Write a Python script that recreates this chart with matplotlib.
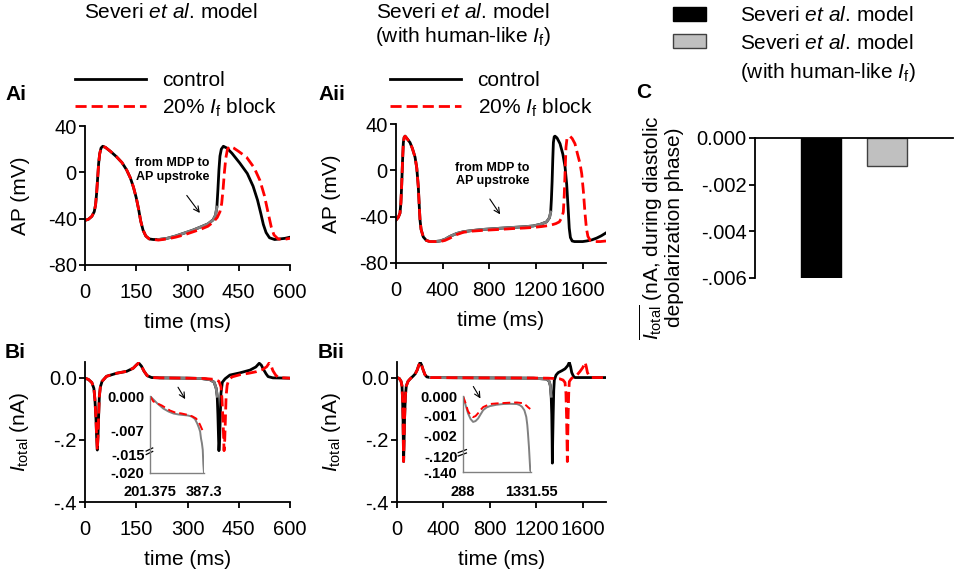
import numpy as np
import matplotlib.pyplot as plt
from matplotlib.patches import Patch

plt.rcParams['font.family'] = ['Liberation Sans', 'DejaVu Sans']
plt.rcParams['mathtext.fontset'] = 'custom'
plt.rcParams['mathtext.rm'] = 'Liberation Sans'
plt.rcParams['mathtext.it'] = 'Liberation Sans:italic'
plt.rcParams['mathtext.bf'] = 'Liberation Sans:bold'
plt.rcParams['axes.unicode_minus'] = False

# ---------------- data ----------------
# Ai: Severi model AP (ms, mV)
t_ai_ctrl = [0, 10, 20, 27, 31, 34, 37, 40, 43, 47, 52, 60, 75, 92, 108, 122, 133, 142, 150, 157, 163, 170,
             178, 188, 200, 215, 240, 265, 290, 315, 340, 360, 375, 382, 386, 389, 392, 395, 399, 405, 415,
             430, 453, 475, 492, 505, 515, 522, 530, 540, 555, 570, 585, 600]
v_ai_ctrl = [-41.5, -40.5, -38, -34, -28, -18, -5, 8, 16, 21, 22.5, 21.5, 18, 13.5, 8.5, 2, -5, -13, -22, -32, -42, -50,
             -55, -57.5, -58, -58, -57, -55, -52.5, -50, -47, -44.5, -41, -37, -30, -15, 2, 14, 20, 22.5, 21,
             16.5, 8, -1, -12, -24, -36, -45, -52, -56.5, -58, -57.5, -57, -56]
t_ai_blk = [0, 10, 20, 27, 31, 34, 37, 40, 43, 47, 52, 60, 75, 92, 108, 122, 133, 142, 150, 157, 163, 170,
            178, 188, 200, 215, 240, 265, 290, 315, 340, 360, 375, 387, 395, 400, 404, 408, 412, 417, 424,
            435, 450, 473, 495, 512, 525, 536, 545, 553, 565, 580, 600]
v_ai_blk = [-41.5, -40.5, -38, -34, -28, -18, -5, 8, 16, 21, 22.5, 21.5, 18, 13.5, 8.5, 2, -5, -13, -22, -32, -42, -50,
            -55, -57.5, -58, -58.5, -57.5, -56, -54, -51.5, -49, -46.5, -43, -39, -34, -27, -15, 0, 12, 20, 22.5,
            21, 18, 13, 4, -7, -20, -35, -47, -54, -57.5, -58, -57]

# Aii: Severi model with human-like If
t_aii_ctrl = [0, 20, 34, 42, 49, 56, 63, 70, 78, 90, 105, 120, 140, 163, 178, 191, 200, 206, 215, 234, 260, 290,
              330, 377, 420, 463, 520, 577, 650, 749, 891, 1000, 1100, 1177, 1240, 1291, 1315, 1326, 1332, 1338,
              1344, 1349, 1356, 1363, 1380, 1406, 1430, 1449, 1463, 1475, 1485, 1495, 1510, 1530, 1549, 1600,
              1634, 1680, 1720, 1760, 1800]
v_aii_ctrl = [-43, -40.5, -37, -28, -12, 8, 24, 28.5, 29.5, 28, 26, 24, 19, 11.5, 2, -14, -32, -43, -51, -57.5,
              -60.5, -61.5, -61.5, -61, -59.5, -57, -54.5, -53, -52, -51, -50, -49.3, -48.7, -48, -46.5, -44.5,
              -41, -36, -25, -10, 10, 24, 29, 29.5, 28, 23, 14, 3, -12, -32, -50, -58, -61, -61.5, -61.5,
              -61.5, -61, -60, -58.5, -56.5, -54]
t_aii_blk = [0, 20, 34, 42, 49, 56, 63, 70, 78, 90, 105, 120, 140, 163, 178, 191, 200, 206, 215, 234, 260, 290,
             330, 377, 420, 463, 520, 577, 650, 749, 891, 1000, 1100, 1177, 1250, 1320, 1370, 1400, 1420, 1434,
             1442, 1449, 1457, 1465, 1477, 1491, 1510, 1534, 1556, 1577, 1592, 1606, 1620, 1632, 1645, 1665,
             1700, 1750, 1800]
v_aii_blk = [-43, -40.5, -37, -28, -12, 8, 24, 28.5, 29.5, 28, 26, 24, 19, 11.5, 2, -14, -32, -43, -51, -57.5,
             -60.5, -61.5, -61.5, -61.5, -60.5, -58.5, -55.5, -53.5, -52.5, -51.8, -51, -50.3, -49.8, -49.3,
             -48.5, -47.5, -46, -44.5, -41, -36, -22, -2, 20, 27, 29, 29.5, 27.5, 23, 14, 6, -3, -18, -37, -50,
             -57, -60.5, -61.5, -61.5, -61]

# Bi: Itotal (nA)
t_bi_ctrl = [0, 10, 20, 26, 29, 32, 34, 36, 38, 40, 42, 45, 50, 63, 93, 122, 141, 150, 157, 165, 173, 182, 195,
             220, 300, 340, 366, 378, 384, 387, 389, 391, 392, 394, 396, 398, 402, 410, 424, 453, 483, 500,
             510, 516, 522, 530, 536, 550, 600]
i_bi_ctrl = [-0.002, -0.006, -0.016, -0.035, -0.07, -0.13, -0.19, -0.233, -0.19, -0.12, -0.06, -0.03, -0.012,
             0.004, 0.014, 0.02, 0.03, 0.04, 0.047, 0.037, 0.02, 0.006, 0.0, -0.001, -0.002, -0.003, -0.007,
             -0.015, -0.035, -0.06, -0.12, -0.2, -0.235, -0.2, -0.12, -0.05, -0.015, -0.004, 0.008, 0.015,
             0.024, 0.034, 0.046, 0.04, 0.027, 0.012, 0.003, -0.001, -0.002]
t_bi_blk = [0, 10, 20, 26, 29, 32, 34, 36, 38, 40, 42, 45, 50, 63, 93, 122, 141, 150, 157, 165, 173, 182, 195,
            220, 300, 350, 380, 392, 398, 401, 404, 406, 407, 409, 411, 413, 416, 420, 430, 453, 480, 502, 520,
            532, 539, 545, 550, 558, 566, 600]
i_bi_blk = [-0.002, -0.006, -0.016, -0.035, -0.07, -0.13, -0.19, -0.233, -0.19, -0.12, -0.06, -0.03, -0.012,
            0.004, 0.014, 0.02, 0.03, 0.04, 0.047, 0.037, 0.02, 0.006, 0.0, -0.001, -0.002, -0.003, -0.006,
            -0.012, -0.03, -0.07, -0.14, -0.2, -0.235, -0.2, -0.13, -0.06, -0.025, -0.01, 0.002, 0.009, 0.014,
            0.019, 0.026, 0.035, 0.047, 0.037, 0.022, 0.008, 0.0, -0.002]

# Bii: Itotal (nA), human-like If
t_bii_ctrl = [0, 20, 35, 43, 48, 52, 55, 57, 60, 65, 72, 80, 95, 114, 140, 157, 175, 186, 200, 212, 223, 240,
              257, 288, 700, 1175, 1290, 1310, 1320, 1328, 1333, 1336, 1338, 1341, 1345, 1350, 1355, 1370, 1389,
              1420, 1447, 1470, 1484, 1495, 1505, 1520, 1533, 1800]
i_bii_ctrl = [0.0, -0.003, -0.012, -0.027, -0.07, -0.134, -0.22, -0.27, -0.22, -0.134, -0.06, -0.027, -0.012,
              -0.004, 0.005, 0.012, 0.025, 0.038, 0.049, 0.04, 0.027, 0.01, 0.002, 0.0, -0.001, -0.002, -0.005,
              -0.012, -0.025, -0.06, -0.12, -0.2, -0.275, -0.2, -0.12, -0.04, -0.008, 0.008, 0.016, 0.022,
              0.028, 0.038, 0.049, 0.035, 0.016, 0.004, 0.0, 0.0]
t_bii_blk = [0, 20, 35, 43, 48, 52, 55, 57, 60, 65, 72, 80, 95, 114, 140, 157, 175, 186, 200, 212, 223, 240,
             257, 288, 700, 1175, 1300, 1400, 1430, 1447, 1455, 1460, 1464, 1467, 1470, 1474, 1479, 1484, 1500,
             1519, 1550, 1577, 1600, 1620, 1630, 1640, 1655, 1675, 1800]
i_bii_blk = [0.0, -0.003, -0.012, -0.027, -0.07, -0.134, -0.22, -0.27, -0.22, -0.134, -0.06, -0.027, -0.012,
             -0.004, 0.005, 0.012, 0.025, 0.038, 0.049, 0.04, 0.027, 0.01, 0.002, 0.0, -0.001, -0.0015, -0.002,
             -0.004, -0.008, -0.016, -0.05, -0.12, -0.2, -0.27, -0.2, -0.12, -0.05, -0.013, -0.004, 0.002,
             0.008, 0.02, 0.032, 0.049, 0.035, 0.016, 0.005, 0.0, 0.0]

# insets (diastolic depolarization phase)
t_ins_i_ctrl = [201.375, 225, 247, 265, 282, 300, 316, 332, 345, 356, 364, 370, 374, 377, 380, 383, 385, 387.3]
i_ins_i_ctrl = [0.0, -0.0014, -0.0025, -0.0031, -0.0035, -0.0037, -0.0038, -0.0039, -0.0041, -0.0046, -0.0055,
                -0.0064, -0.0072, -0.0095, -0.011, -0.0133, -0.0175, -0.020]
t_ins_i_blk = [201.375, 213, 242, 270, 288, 310, 333, 348, 360, 368, 374, 380, 385]
i_ins_i_blk = [0.0, -0.0011, -0.0019, -0.0029, -0.0033, -0.0035, -0.0038, -0.0041, -0.0045, -0.0051, -0.0058,
               -0.0066, -0.0073]
t_ins_ii_ctrl = [288, 330, 365, 405, 443, 480, 520, 560, 598, 650, 701, 800, 907, 1010, 1115, 1160, 1192, 1230,
                 1259, 1275, 1285, 1300, 1320, 1331.55]
i_ins_ii_ctrl = [0.0, -0.0005, -0.00091, -0.0012, -0.00134, -0.0013, -0.00117, -0.00095, -0.00074, -0.0006,
                 -0.00053, -0.00046, -0.00042, -0.00041, -0.00042, -0.00048, -0.00056, -0.00075, -0.00109,
                 -0.0015, -0.0019, -0.0656, -0.1377, -0.140]
t_ins_ii_blk = [288, 330, 365, 405, 443, 480, 520, 560, 598, 650, 701, 800, 907, 1010, 1115, 1192, 1230, 1259,
                1290, 1320]
i_ins_ii_blk = [0.0, -0.0004, -0.0008, -0.001, -0.0011, -0.00105, -0.0009, -0.00072, -0.00058, -0.0005,
                -0.00042, -0.00039, -0.00037, -0.00035, -0.00034, -0.00037, -0.00043, -0.0005, -0.0006, -0.00068]

# diastolic window of each control trace (ms)
diast_i = (201.375, 387.3)
diast_ii = (288, 1331.55)

# C: mean Itotal during diastolic depolarization (nA)
c_models = ['Severi $\\mathit{et\\ al}$. model', 'Severi $\\mathit{et\\ al}$. model',
            '(with human-like $I_\\mathrm{f}$)']
c_values = [-0.00598, -0.0012]

ap_ticks = [-80, -40, 0, 40]
ap_ticklabels = ['-80', '-40', '0', '40']
i_ticks = [-0.4, -0.2, 0.0]
i_ticklabels = ['-.4', '-.2', '0.0']
c_ticks = [-0.006, -0.004, -0.002, 0.0]
c_ticklabels = ['-.006', '-.004', '-.002', '0.000']
ins_i_ticks = [-0.020, -0.015, -0.007, 0.0]
ins_i_ticklabels = ['-.020', '-.015', '-.007', '0.000']
ins_ii_ticks = [-0.140, -0.120, -0.002, -0.001, 0.0]
ins_ii_ticklabels = ['-.140', '-.120', '-.002', '-.001', '0.000']

# ---------------- figure ----------------
W, H = 957, 575
fig = plt.figure(figsize=(W / 100, H / 100), dpi=100)


def box(x0, y0, x1, y1):
    # pixel box (top-left origin) -> figure fraction rect
    return [x0 / W, 1 - y1 / H, (x1 - x0) / W, (y1 - y0) / H]


RED = '#ff0000'
GREY = '#808080'
LW = 2.0
DASH = (4, 1.8)
TICK = 14.5
FS = 15


def style(ax):
    for s in ['top', 'right']:
        ax.spines[s].set_visible(False)
    for s in ['left', 'bottom']:
        ax.spines[s].set_linewidth(1.3)
    ax.tick_params(direction='out', length=4, width=1.3, labelsize=TICK)
    ax.tick_params(axis='x', pad=9)
    ax.tick_params(axis='y', pad=2)


def main_panel(rect, tc, yc, tb, yb, win, xlim, xticks, yticks, ylabels, ylim, ylab):
    ax = fig.add_axes(rect)
    l1, = ax.plot(tc, yc, color='black', lw=LW, label='control')
    tc_a, yc_a = np.array(tc), np.array(yc)
    m = (tc_a >= win[0]) & (tc_a <= win[1])
    ax.plot(tc_a[m], yc_a[m], color=GREY, lw=LW)
    l2, = ax.plot(tb, yb, color=RED, lw=LW, dashes=DASH, label='20% $I_\\mathrm{f}$ block')
    ax.set_xlim(*xlim)
    ax.set_ylim(*ylim)
    ax.set_xticks(xticks)
    ax.set_yticks(yticks)
    ax.set_yticklabels(ylabels)
    ax.set_xlabel('time (ms)', fontsize=FS, labelpad=8)
    ax.set_ylabel(ylab, fontsize=FS, labelpad=13)
    style(ax)
    return ax, l1, l2


ax_ai, h1, h2 = main_panel(box(85, 126, 290, 265), t_ai_ctrl, v_ai_ctrl, t_ai_blk, v_ai_blk, diast_i,
                           (0, 600), [0, 150, 300, 450, 600], ap_ticks, ap_ticklabels, (-80, 40), 'AP (mV)')
ax_aii, _, _ = main_panel(box(396, 124, 606, 263), t_aii_ctrl, v_aii_ctrl, t_aii_blk, v_aii_blk, diast_ii,
                          (0, 1800), [0, 400, 800, 1200, 1600], ap_ticks, ap_ticklabels, (-80, 40), 'AP (mV)')
ax_bi, _, _ = main_panel(box(85, 362, 290, 502), t_bi_ctrl, i_bi_ctrl, t_bi_blk, i_bi_blk, diast_i,
                         (0, 600), [0, 150, 300, 450, 600], i_ticks, i_ticklabels, (-0.4, 0.05),
                         '$I_\\mathrm{total}$ (nA)')
ax_bii, _, _ = main_panel(box(397, 362, 606, 502), t_bii_ctrl, i_bii_ctrl, t_bii_blk, i_bii_blk, diast_ii,
                          (0, 1800), [0, 400, 800, 1200, 1600], i_ticks, i_ticklabels, (-0.4, 0.05),
                          '$I_\\mathrm{total}$ (nA)')

for ax, xa in [(ax_ai, 75), (ax_aii, 390)]:
    ax.legend([h1, h2], ['control', '20% $I_\\mathrm{f}$ block'], loc='upper left',
              bbox_to_anchor=(xa / W, 1 - 71 / H), bbox_transform=fig.transFigure, frameon=False,
              fontsize=FS, handlelength=3.4, handletextpad=0.8, labelspacing=0.3, borderpad=0,
              borderaxespad=0)

# annotations
for ax, txy, a0, a1 in [(ax_ai, (256, 2), (293, -18), (341, -37)),
                        (ax_aii, (827, -3.6), (791, -22.8), (906, -40))]:
    ax.text(*txy, 'from MDP to\nAP upstroke', ha='center', va='center', fontsize=9, fontweight='bold',
            linespacing=1.15)
    ax.annotate('', xy=a1, xytext=a0, arrowprops=dict(arrowstyle='->', lw=0.8, color='black'))
ax_bi.annotate('', xy=(297.5, -0.077), xytext=(268, -0.0235),
               arrowprops=dict(arrowstyle='->', lw=0.8, color='black'))
ax_bii.annotate('', xy=(731, -0.075), xytext=(645, -0.021),
                arrowprops=dict(arrowstyle='->', lw=0.8, color='black'))


# insets with broken y axis
def inset(rect, tc, yc, tb, yb, win, vals, pos, ticks, labels, brk):
    ax = fig.add_axes(rect)
    ax.patch.set_facecolor('none')
    fwd = lambda y: np.interp(y, vals, pos)
    inv = lambda p: np.interp(p, pos, vals)
    ax.set_yscale('function', functions=(fwd, inv))
    ax.plot(tc, yc, color=GREY, lw=1.4)
    ax.plot(tb, yb, color=RED, lw=1.4, dashes=(4, 2))
    ax.set_xlim(*win)
    ax.set_ylim(vals[0], vals[-1])
    ax.set_xticks(list(win))
    ax.set_xticklabels([f'{win[0]:g}', f'{win[1]:g}'], fontweight='bold')
    ax.set_yticks(ticks)
    ax.set_yticklabels(labels, fontweight='bold')
    ax.yaxis.set_minor_locator(plt.NullLocator())
    for s in ['top', 'right']:
        ax.spines[s].set_visible(False)
    for s in ['left', 'bottom']:
        ax.spines[s].set_color(GREY)
        ax.spines[s].set_linewidth(1.0)
    ax.tick_params(length=0, labelsize=10.5)
    ax.tick_params(axis='x', pad=9)
    ax.tick_params(axis='y', pad=4)
    for dy in (0.0, 0.045):
        ax.plot([-0.07, 0.05], [brk - 0.03 + dy, brk + 0.01 + dy], transform=ax.transAxes,
                color='black', lw=0.9, clip_on=False)
    return ax


inset(box(150, 396, 204, 473), t_ins_i_ctrl, i_ins_i_ctrl, t_ins_i_blk, i_ins_i_blk, diast_i,
      [-0.020, -0.015, -0.007, 0.0], [0, 18, 42, 77], ins_i_ticks, ins_i_ticklabels, 0.27)
inset(box(463, 396, 531, 472), t_ins_ii_ctrl, i_ins_ii_ctrl, t_ins_ii_blk, i_ins_ii_blk, diast_ii,
      [-0.140, -0.120, -0.002, -0.001, 0.0], [0, 15, 36.7, 56.7, 75.7], ins_ii_ticks, ins_ii_ticklabels, 0.24)

# panel C
ax_c = fig.add_axes(box(755, 138, 953, 278))
ax_c.bar([1, 2], c_values, width=0.6, color=['black', '#c0c0c0'], edgecolor=['black', '#404040'],
         linewidth=1.0)
ax_c.set_xlim(0, 3)
ax_c.set_ylim(-0.006, 0.0)
ax_c.set_xticks([])
ax_c.set_yticks(c_ticks)
ax_c.set_yticklabels(c_ticklabels)
for s in ['bottom', 'right']:
    ax_c.spines[s].set_visible(False)
for s in ['left', 'top']:
    ax_c.spines[s].set_linewidth(1.3)
ax_c.tick_params(direction='out', length=4, width=1.3, labelsize=TICK, pad=2)
ax_c.set_ylabel('$\\overline{I_\\mathrm{total}}$ (nA, during diastolic\ndepolarization phase)',
                fontsize=FS, linespacing=1.0)
ax_c.yaxis.set_label_coords(-0.36, 0.36)

fig.legend([Patch(fc='black', ec='black'), Patch(fc='#c0c0c0', ec='#404040'), Patch(fc='none', ec='none')],
           c_models, loc='upper left', bbox_to_anchor=(673 / W, 1 - 6 / H), frameon=False, fontsize=FS,
           handlelength=1.6, handleheight=0.65, handletextpad=1.6, labelspacing=0.42, borderpad=0,
           borderaxespad=0)

# titles and panel letters
fig.text(171 / W, 1 - 13 / H, 'Severi $\\mathit{et\\ al}$. model', ha='center', va='center', fontsize=FS)
fig.text(463 / W, 1 - 13 / H, 'Severi $\\mathit{et\\ al}$. model', ha='center', va='center', fontsize=FS)
fig.text(463 / W, 1 - 37 / H, '(with human-like $I_\\mathrm{f}$)', ha='center', va='center', fontsize=FS)
for lab, x, y in [('Ai', 5, 94), ('Aii', 318, 94), ('Bi', 5, 352), ('Bii', 318, 353), ('C', 636, 93)]:
    fig.text(x / W, 1 - y / H, lab, ha='left', va='center', fontsize=FS, fontweight='bold')

fig.savefig('out.png', dpi=100)
